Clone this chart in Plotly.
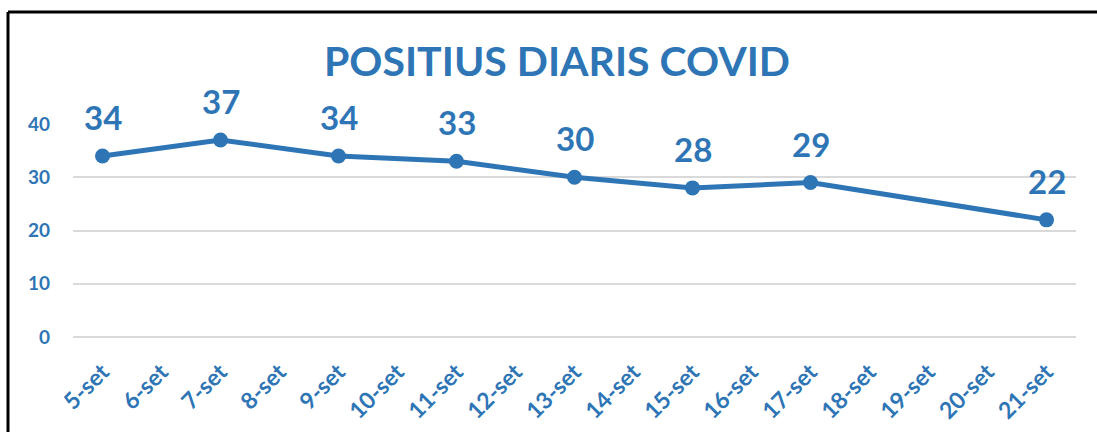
import plotly.graph_objects as go

categories = ["5-set", "6-set", "7-set", "8-set", "9-set", "10-set", "11-set", "12-set",
              "13-set", "14-set", "15-set", "16-set", "17-set", "18-set", "19-set",
              "20-set", "21-set"]
values = [34, None, 37, None, 34, None, 33, None, 30, None, 28, None, 29, None, None, None, 22]
y_ticks = [0, 10, 20, 30, 40]
title_text = "POSITIUS DIARIS COVID"

BLUE = "#2E75B6"
FONT = "Lato"
W, H = 1097, 432
ML, MR, MT, MB = 73, 21, 124, 95
PW = W - ML - MR
PH = H - MT - MB

fig = go.Figure()
fig.add_trace(go.Scatter(
    x=categories, y=values, mode="lines+markers", connectgaps=True,
    line=dict(color=BLUE, width=5),
    marker=dict(color=BLUE, size=15),
    hoverinfo="x+y", showlegend=False,
))

for c, v in zip(categories, values):
    if v is None:
        continue
    fig.add_annotation(x=c, y=v, text=str(v), showarrow=False, yshift=39,
                       yanchor="middle", font=dict(family=FONT, size=33, color=BLUE, weight="bold"))

# border lines (top and left)
def px_x(p):
    return (p - ML) / PW

def px_y(p):
    return (H - MB - p) / PH

fig.add_shape(type="line", xref="paper", yref="paper", x0=px_x(8), x1=px_x(1097),
              y0=px_y(12), y1=px_y(12), line=dict(color="black", width=3))
fig.add_shape(type="line", xref="paper", yref="paper", x0=px_x(8), x1=px_x(8),
              y0=px_y(12), y1=px_y(432), line=dict(color="black", width=3))

fig.update_layout(
    width=W, height=H,
    margin=dict(l=ML, r=MR, t=MT, b=MB, autoexpand=False),
    paper_bgcolor="white", plot_bgcolor="white",
    title=dict(text=title_text, x=557 / W, xanchor="center", y=1 - 62 / H, yanchor="middle",
               yref="container", font=dict(family=FONT, size=41, color=BLUE, weight="bold")),
    xaxis=dict(type="category", categoryorder="array", categoryarray=categories,
               range=[-0.5, len(categories) - 0.5], showgrid=False, showline=False,
               zeroline=False, tickangle=-45, ticks="", ticklabelstandoff=16,
               automargin=False,
               tickfont=dict(family=FONT, size=23, color=BLUE, weight="bold")),
    yaxis=dict(range=[0, 40], tickvals=y_ticks, showgrid=True, gridcolor="#D9D9D9",
               gridwidth=1.5, zeroline=True, zerolinecolor="#D9D9D9", zerolinewidth=1.5,
               showline=False, ticks="", ticklabelstandoff=22, automargin=False,
               tickfont=dict(family=FONT, size=19, color=BLUE, weight="bold")),
)
fig.update_traces(cliponaxis=False)

fig.write_html("out.html", config={"displayModeBar": False},
               post_script="document.body.style.margin='0px';")
